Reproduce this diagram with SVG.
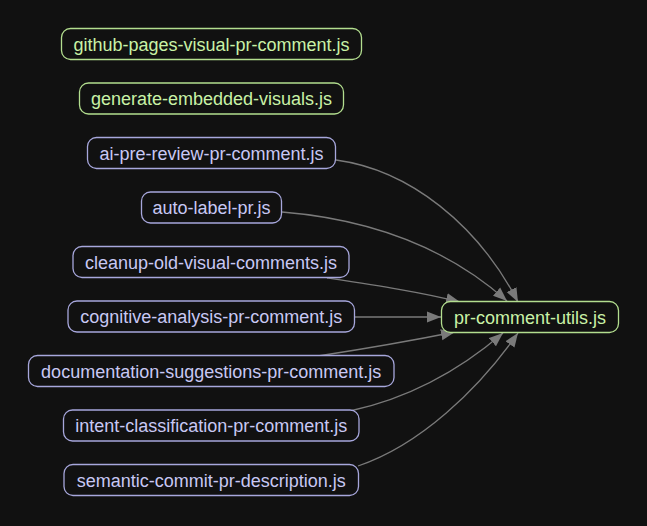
<svg xmlns="http://www.w3.org/2000/svg" width="647" height="526" viewBox="0 0 647 526">
<style>
.bg{fill:#111111}
.n rect{fill:#111111;stroke-width:1.3}
.g rect{stroke:#b3de8f}
.g text{fill:#c9f2a6}
.p rect{stroke:#a7a7dc}
.p text{fill:#c8c8f4}
text{font-family:"Liberation Sans",Arial,sans-serif;font-size:18px;text-anchor:middle}
.e path{fill:none;stroke:#7a7a7a;stroke-width:1.3}
</style>
<defs>
<marker id="arr" markerUnits="userSpaceOnUse" markerWidth="15" markerHeight="12" refX="14" refY="5.5" orient="auto" viewBox="0 0 15 11">
<path d="M0,0 L14,5.5 L0,11 z" fill="#7a7a7a"/>
</marker>
</defs>
<rect class="bg" x="0" y="0" width="647" height="526"/>
<g id="connectors" class="e">
<path d="M336,160 C410,170 478,225 518,302" marker-end="url(#arr)"/>
<path d="M282,212 C380,220 452,252 507,301" marker-end="url(#arr)"/>
<path d="M327,278 C380,286 420,292 460,302" marker-end="url(#arr)"/>
<path d="M355,317 L441,317" marker-end="url(#arr)"/>
<path d="M318,356 C370,348 415,340 455,332" marker-end="url(#arr)"/>
<path d="M350,411 C410,398 460,370 503,333" marker-end="url(#arr)"/>
<path d="M358,466 C420,445 478,390 518,333" marker-end="url(#arr)"/>
</g>
<g id="n-github" class="n g"><rect x="61.5" y="28.5" width="300" height="31" rx="9"/><text x="211.5" y="50.5">github-pages-visual-pr-comment.js</text></g>
<g id="n-generate" class="n g"><rect x="79.5" y="83" width="264" height="31" rx="9"/><text x="211.5" y="105">generate-embedded-visuals.js</text></g>
<g id="n-ai" class="n p"><rect x="87.5" y="137.5" width="248" height="31" rx="9"/><text x="211.5" y="159.5">ai-pre-review-pr-comment.js</text></g>
<g id="n-auto" class="n p"><rect x="141.5" y="192" width="140" height="31" rx="9"/><text x="211.5" y="214">auto-label-pr.js</text></g>
<g id="n-cleanup" class="n p"><rect x="73" y="246.5" width="276" height="31" rx="9"/><text x="211" y="268.5">cleanup-old-visual-comments.js</text></g>
<g id="n-cognitive" class="n p"><rect x="68" y="301" width="286.5" height="31" rx="9"/><text x="211.2" y="323">cognitive-analysis-pr-comment.js</text></g>
<g id="n-doc" class="n p"><rect x="28.5" y="355.5" width="365.5" height="31" rx="9"/><text x="211.2" y="377.5">documentation-suggestions-pr-comment.js</text></g>
<g id="n-intent" class="n p"><rect x="63.5" y="410" width="295.5" height="31" rx="9"/><text x="211.2" y="432">intent-classification-pr-comment.js</text></g>
<g id="n-semantic" class="n p"><rect x="64" y="464.5" width="294.5" height="31" rx="9"/><text x="211.2" y="486.5">semantic-commit-pr-description.js</text></g>
<g id="n-utils" class="n g"><rect x="441.5" y="301.5" width="177" height="31" rx="9"/><text x="530" y="323.5">pr-comment-utils.js</text></g>
</svg>
